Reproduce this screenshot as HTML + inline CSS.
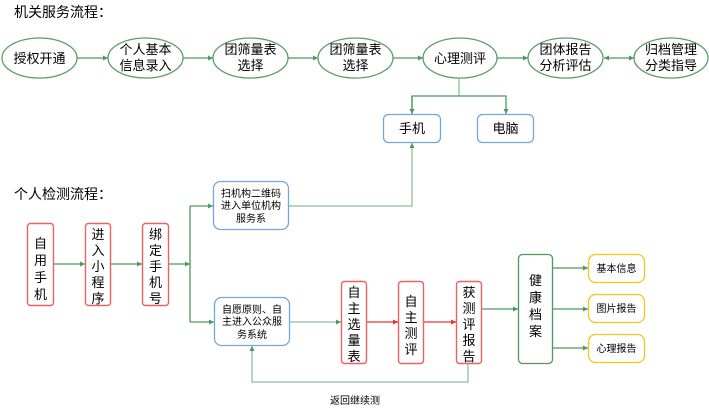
<!DOCTYPE html>
<html><head><meta charset="utf-8"><style>
html,body{margin:0;padding:0;background:#fff;width:709px;height:413px;overflow:hidden}
text{font-family:"Liberation Sans","Noto Sans CJK SC",sans-serif;fill:#000}
</style></head><body>
<svg width="709" height="413" viewBox="0 0 709 413" xmlns="http://www.w3.org/2000/svg">
<defs>
<marker id="g" markerWidth="6" markerHeight="6" refX="5" refY="3" orient="auto" markerUnits="userSpaceOnUse"><path d="M0,0.5 L5,3 L0,5.5z" fill="#4e9a5e"/></marker>
<marker id="gs" markerWidth="6" markerHeight="6" refX="1" refY="3" orient="auto" markerUnits="userSpaceOnUse"><path d="M6,0.5 L1,3 L6,5.5z" fill="#4e9a5e"/></marker>
<marker id="r" markerWidth="6" markerHeight="6" refX="5" refY="3" orient="auto" markerUnits="userSpaceOnUse"><path d="M0,0.5 L5,3 L0,5.5z" fill="#e83030"/></marker>
</defs>
<text x="14" y="17" font-size="14">机关服务流程：</text>
<text x="14" y="199" font-size="14">个人检测流程：</text>
<g fill="#fff" stroke="#5a9e66" stroke-width="1.3">
<ellipse cx="39.5" cy="58" rx="37.5" ry="20"/>
<ellipse cx="145.5" cy="58" rx="37.5" ry="20"/>
<ellipse cx="250.5" cy="58" rx="37.5" ry="20"/>
<ellipse cx="355.5" cy="58" rx="37.5" ry="20"/>
<ellipse cx="460" cy="58" rx="37" ry="20"/>
<ellipse cx="565.5" cy="58" rx="37.5" ry="20"/>
<ellipse cx="671" cy="58" rx="37" ry="20"/>
</g>
<g font-size="13" text-anchor="middle">
<text x="39.5" y="63">授权开通</text>
<text x="145.5" y="54">个人基本</text><text x="145.5" y="70">信息录入</text>
<text x="250.5" y="54">团筛量表</text><text x="250.5" y="70">选择</text>
<text x="355.5" y="54">团筛量表</text><text x="355.5" y="70">选择</text>
<text x="460" y="63">心理测评</text>
<text x="565.5" y="54">团体报告</text><text x="565.5" y="70">分析评估</text>
<text x="671" y="54">归档管理</text><text x="671" y="70">分类指导</text>
</g>
<g stroke="#4e9a5e" stroke-width="1.3" fill="none">
<line x1="77" y1="58" x2="108" y2="58" marker-end="url(#g)"/>
<line x1="183" y1="58" x2="213" y2="58" marker-end="url(#g)"/>
<line x1="288" y1="58" x2="318" y2="58" marker-end="url(#g)"/>
<line x1="393" y1="58" x2="423" y2="58" marker-end="url(#g)"/>
<line x1="497" y1="58" x2="528" y2="58" marker-end="url(#g)"/>
<line x1="604" y1="58" x2="634" y2="58" marker-end="url(#g)" marker-start="url(#gs)"/>
<polyline stroke="#8cbf98" points="459,78 459,96"/>
<polyline points="412,114 412,96 506,96 506,114" marker-end="url(#g)"/>
<line x1="412" y1="96" x2="412" y2="114" marker-end="url(#g)"/>
<polyline stroke="#8cbf98" points="289,206 412,206 412,143" marker-end="url(#g)"/>
<line x1="53" y1="264" x2="85" y2="264" marker-end="url(#g)"/>
<line x1="110" y1="264" x2="142" y2="264" marker-end="url(#g)"/>
<line x1="168" y1="264" x2="190" y2="264" marker-end="url(#g)"/>
<polyline points="190,206 190,322"/>
<line x1="190" y1="206" x2="213" y2="206" marker-end="url(#g)"/>
<line x1="190" y1="322" x2="214" y2="322" marker-end="url(#g)"/>
<line stroke="#8cbf98" x1="290" y1="322" x2="341" y2="322" marker-end="url(#g)"/>
<line x1="481" y1="309" x2="518" y2="309" marker-end="url(#g)"/>
<line x1="552" y1="268" x2="588" y2="268" marker-end="url(#g)"/>
<line x1="552" y1="309" x2="588" y2="309" marker-end="url(#g)"/>
<line x1="552" y1="348" x2="588" y2="348" marker-end="url(#g)"/>
<polyline stroke="#8cbf98" points="468,363 468,382 252,382 252,346" marker-end="url(#g)"/>
</g>
<g stroke="#e85858" stroke-width="1.5">
<line x1="366" y1="322" x2="398" y2="322" marker-end="url(#r)"/>
<line x1="423" y1="322" x2="456" y2="322" marker-end="url(#r)"/>
</g>
<g fill="#fff" stroke="#6fa8dc" stroke-width="1.3">
<rect x="383.5" y="114.5" width="57" height="28" rx="5"/>
<rect x="477.5" y="114.5" width="56" height="28" rx="5"/>
<rect x="213.5" y="181.5" width="75" height="48" rx="7"/>
<rect x="214.5" y="297.5" width="75" height="48" rx="7"/>
</g>
<g fill="#fff" stroke="#f06060" stroke-width="1.4">
<rect x="27.5" y="223.5" width="26" height="82" rx="3"/>
<rect x="85.5" y="223.5" width="25" height="82" rx="3"/>
<rect x="142.5" y="223.5" width="26" height="82" rx="3"/>
<rect x="341.5" y="281.5" width="25" height="82" rx="3"/>
<rect x="398.5" y="281.5" width="25" height="82" rx="3"/>
<rect x="456.5" y="281.5" width="25" height="82" rx="3"/>
</g>
<rect x="518.5" y="254.5" width="34" height="109" rx="4" fill="#fff" stroke="#4e9a5e" stroke-width="1.3"/>
<g fill="#fff" stroke="#f5c518" stroke-width="1.3">
<rect x="588.5" y="254.5" width="56" height="28" rx="7"/>
<rect x="588.5" y="294.5" width="56" height="28" rx="7"/>
<rect x="588.5" y="334.5" width="56" height="28" rx="7"/>
</g>
<g font-size="13" text-anchor="middle">
<text x="412" y="133">手机</text><text x="505.5" y="133">电脑</text>
</g>
<g font-size="10" text-anchor="middle">
<text x="251" y="197">扫机构二维码</text><text x="251" y="209">进入单位机构</text><text x="251" y="222">服务系</text>
<text x="252" y="313">自愿原则、自</text><text x="252" y="325">主进入公众服</text><text x="252" y="338">务系统</text>
<text x="616.5" y="272">基本信息</text><text x="616.5" y="312">图片报告</text><text x="616.5" y="352">心理报告</text>
<text x="355" y="404">返回继续测</text>
</g>
<g font-size="13" text-anchor="middle">
<text x="40.5" y="248">自</text><text x="40.5" y="265">用</text><text x="40.5" y="282">手</text><text x="40.5" y="299">机</text>
<text x="98" y="239">进</text><text x="98" y="255">入</text><text x="98" y="271">小</text><text x="98" y="287">程</text><text x="98" y="303">序</text>
<text x="155.5" y="239">绑</text><text x="155.5" y="255">定</text><text x="155.5" y="271">手</text><text x="155.5" y="287">机</text><text x="155.5" y="303">号</text>
<text x="354" y="297">自</text><text x="354" y="313">主</text><text x="354" y="329">选</text><text x="354" y="345">量</text><text x="354" y="361">表</text>
<text x="411" y="306">自</text><text x="411" y="322">主</text><text x="411" y="338">测</text><text x="411" y="354">评</text>
<text x="469" y="297">获</text><text x="469" y="313">测</text><text x="469" y="329">评</text><text x="469" y="345">报</text><text x="469" y="361">告</text>
<text x="535.5" y="285">健</text><text x="535.5" y="302">康</text><text x="535.5" y="319">档</text><text x="535.5" y="336">案</text>
</g>
</svg>
</body></html>
